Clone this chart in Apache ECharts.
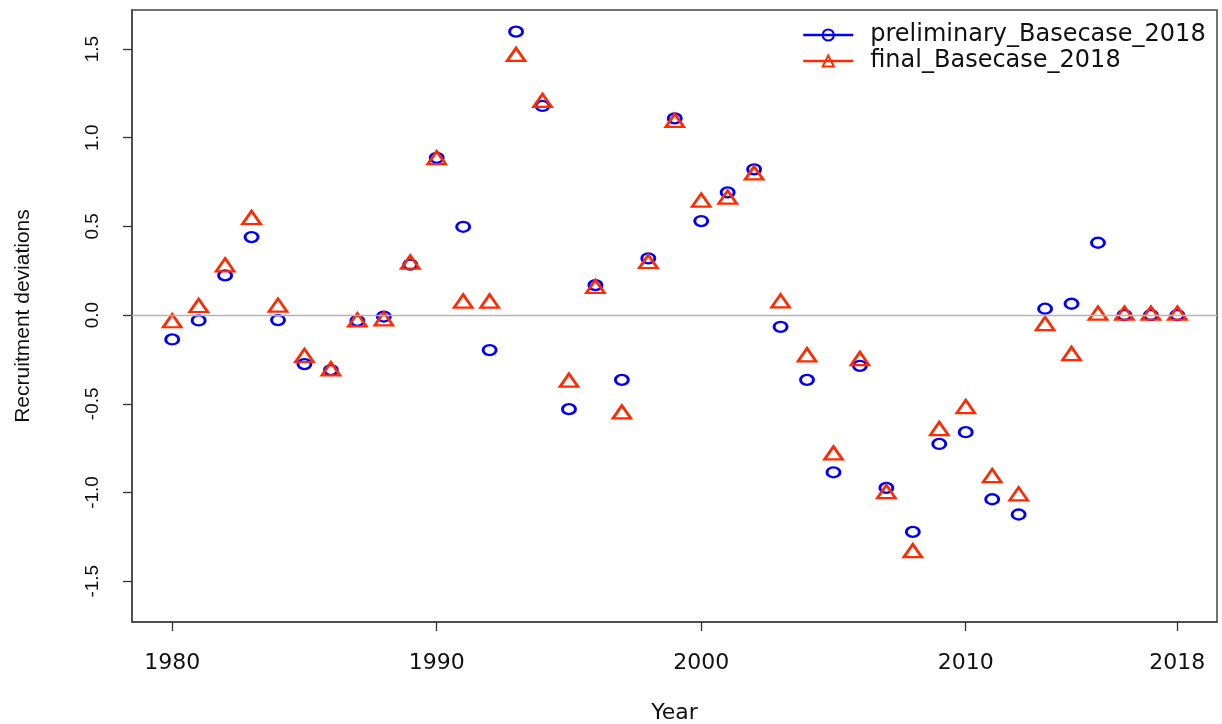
<!DOCTYPE html>
<html>
<head>
<meta charset="utf-8">
<script src="https://cdn.jsdelivr.net/npm/echarts@6/dist/echarts.min.js"></script>
<style>html,body{margin:0;padding:0;background:#fff}#c{width:1222px;height:724px}</style>
</head>
<body>
<div id="c"></div>
<script>
var years = [1980,1981,1982,1983,1984,1985,1986,1987,1988,1989,1990,1991,1992,1993,1994,1995,1996,1997,1998,1999,2000,2001,2002,2003,2004,2005,2006,2007,2008,2009,2010,2011,2012,2013,2014,2015,2016,2017,2018];
var preliminary = [-0.137,-0.03,0.224,0.44,-0.028,-0.276,-0.31,-0.032,-0.008,0.285,0.887,0.498,-0.197,1.598,1.179,-0.53,0.169,-0.365,0.32,1.109,0.53,0.692,0.822,-0.066,-0.365,-0.886,-0.286,-0.974,-1.222,-0.726,-0.66,-1.038,-1.124,0.036,0.064,0.408,0,0,0];
var finalSeries = [-0.043,0.043,0.272,0.539,0.045,-0.239,-0.314,-0.038,-0.032,0.288,0.876,0.068,0.068,1.458,1.199,-0.378,0.15,-0.557,0.291,1.086,0.637,0.654,0.79,0.069,-0.235,-0.788,-0.256,-1.006,-1.339,-0.651,-0.527,-0.916,-1.019,-0.059,-0.228,0,0,0,0];
var xTicks = [1980,1990,2000,2010,2018];
var yTicks = [-1.5,-1.0,-0.5,0.0,0.5,1.0,1.5];
var names = ['preliminary_Basecase_2018','final_Basecase_2018'];

function pairs(vals){ return years.map(function(y,i){ return [y, vals[i]]; }); }

var chart = echarts.init(document.getElementById('c'));
chart.setOption({
  animation: false,
  backgroundColor: '#fff',
  grid: { left: 132, top: 10, right: 5, bottom: 102, show: true, borderColor: '#444', borderWidth: 1.5, backgroundColor: 'transparent', outerBoundsMode: 'none', containLabel: false },
  legend: {
    orient: 'vertical',
    left: 797, top: 18,
    itemWidth: 50, itemHeight: 14, itemGap: 2,
    data: names,
    textStyle: { fontFamily: 'DejaVu Sans', fontSize: 24, color: '#111', padding: [0,0,0,12] },
    lineStyle: { opacity: 1, width: 2.5 }
  },
  xAxis: {
    type: 'value', min: 1978.48, max: 2019.5,
    name: 'Year', nameLocation: 'middle', nameGap: 80,
    nameTextStyle: { fontFamily: 'DejaVu Sans', fontSize: 22, color: '#111' },
    axisLine: { show: true, onZero: false, lineStyle: { color: '#444', width: 1.5 } },
    splitLine: { show: false },
    axisTick: { show: true, inside: false, length: 9, customValues: xTicks, lineStyle: { color: '#333', width: 1.3 } },
    axisLabel: { customValues: xTicks, margin: 30, fontFamily: 'DejaVu Sans', fontSize: 22, color: '#111',
      formatter: function(v){ return String(v); } }
  },
  yAxis: {
    type: 'value', min: -1.73, max: 1.72,
    name: 'Recruitment deviations', nameLocation: 'middle', nameGap: 98,
    nameTextStyle: { fontFamily: 'Liberation Sans', fontSize: 21, color: '#111' },
    axisLine: { show: true, onZero: false, lineStyle: { color: '#444', width: 1.5 } },
    splitLine: { show: false },
    axisTick: { show: true, inside: false, length: 9, customValues: yTicks, lineStyle: { color: '#333', width: 1.3 } },
    axisLabel: { customValues: yTicks, rotate: 90, margin: 30, fontFamily: 'Liberation Sans', fontSize: 19, color: '#111',
      formatter: function(v){ return v.toFixed(1); } }
  },
  series: [
    {
      name: names[0], type: 'line', data: pairs(preliminary),
      symbol: 'circle', symbolSize: [13,10], showAllSymbol: true,
      lineStyle: { opacity: 0, color: '#0000ff', width: 2.5 },
      itemStyle: { color: 'rgba(255,255,255,0)', borderColor: '#0000ff', borderWidth: 2.6 },
      emphasis: { disabled: true },
      markLine: { silent: true, symbol: 'none', label: { show: false },
        lineStyle: { color: '#b4b4b4', width: 1.3, type: 'solid' }, data: [{ yAxis: 0 }] },
      z: 2
    },
    {
      name: names[1], type: 'line', data: pairs(finalSeries),
      symbol: 'triangle', symbolSize: [18,13], symbolOffset: [0,-2], showAllSymbol: true,
      lineStyle: { opacity: 0, color: '#ff2a00', width: 2.5 },
      itemStyle: { color: 'rgba(255,255,255,0)', borderColor: '#ff2a00', borderWidth: 2.6 },
      emphasis: { disabled: true },
      z: 3
    }
  ]
});
</script>
</body>
</html>
